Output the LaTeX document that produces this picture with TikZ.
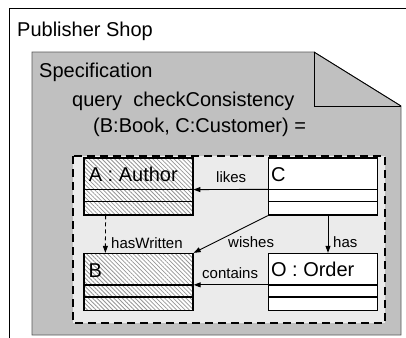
\documentclass[tikz,border=0pt]{standalone}
\usepackage{fontspec}
\setmainfont{Liberation Sans}
\usetikzlibrary{calc,arrows.meta,patterns.meta}
\definecolor{specgray}{RGB}{192,192,192}
\definecolor{innergray}{RGB}{235,235,235}
\definecolor{hatchgray}{RGB}{150,150,150}
\begin{document}
\begin{tikzpicture}[x=1pt,y=-1pt,
  big/.style={font=\fontsize{20}{24}\selectfont, inner sep=0pt},
  lbl/.style={font=\fontsize{15}{18}\selectfont, inner sep=0pt},
  cls/.style={draw=black, line width=1.3pt, minimum width=109pt, minimum height=57pt, inner sep=0pt},
  hatched/.style={preaction={fill=white}, pattern={Lines[angle=-45,distance=3pt,line width=0.8pt]}, pattern color=hatchgray},
  plain/.style={fill=white},
  comp/.style={line width=1.3pt},
  arr/.style={line width=0.9pt, -{Triangle[length=7pt,width=5pt]}},
]
\useasboundingbox (0,0) rectangle (406,337);
\clip (0,0) rectangle (406,337);
% outer package frame
\draw[line width=1pt] (9,9) rectangle (430,360);
\node[big, anchor=base west] (shop) at (17,37) {Publisher Shop};
% specification note
\filldraw[fill=specgray, draw=black!65, line width=0.8pt] (32,52) -- (314,52) -- (401,106) -- (401,335) -- (32,335) -- cycle;
\draw[line width=0.8pt] (314,52) -- (401,106);
\draw[line width=0.8pt] (314,52) -- (314,106) -- (401,106);
\node[big, anchor=base west] (spec) at (39,77) {Specification};
\node[big, anchor=base west] (q1) at (72,106) {query\ \ checkConsistency};
\node[big, anchor=base west] (q2) at (93,132) {(B:Book, C:Customer) =};
% query body
\draw[dash pattern=on 8pt off 5pt, fill=innergray, line width=1.2pt] (73,156) rectangle (385,323);
% classes
\node[cls, hatched] (A) at (138.5,186.5) {};
\node[cls, hatched] (B) at (138.5,282) {};
\node[cls, plain] (C) at (323,186.5) {};
\node[cls, plain] (O) at (323,282) {};
\foreach \n in {A,B,C,O} {
  \draw[comp] ($(\n.north west)+(0,32)$) -- ($(\n.north east)+(0,32)$);
  \draw[comp] ($(\n.north west)+(0,44)$) -- ($(\n.north east)+(0,44)$);
}
\node[big, anchor=base west] (An) at ($(A.north west)+(5,24)$) {A : Author};
\node[big, anchor=base west] (Bn) at ($(B.north west)+(5,25)$) {B};
\node[big, anchor=base west] (Cn) at ($(C.north west)+(3,24)$) {C};
\node[big, anchor=base west] (On) at ($(O.north west)+(3,24)$) {O : Order};
% connectors
\draw[arr] ($(C.north west)+(0,32)$) -- ($(A.north east)+(0,32)$);
\draw[arr] ($(O.north west)+(0,32)$) -- ($(B.north east)+(0,32)$);
\draw[arr] (C.south west) -- (B.north east);
\draw[arr] ($(C.south)+(5,0)$) -- ($(O.north)+(5,0)$);
\draw[arr, dash pattern=on 4pt off 3pt] ($(A.south west)+(22,0)$) -- ($(B.north west)+(22,0)$);
% labels
\node[lbl, anchor=base west] (likes) at (216,182) {likes};
\node[lbl, anchor=base west] (contains) at (202,278) {contains};
\node[lbl, anchor=base west] (wishes) at (228,247) {wishes};
\node[lbl, anchor=base west] (has) at (333,247) {has};
\node[lbl, anchor=base west] (hw) at (111,248) {hasWritten};
\end{tikzpicture}
\end{document}
